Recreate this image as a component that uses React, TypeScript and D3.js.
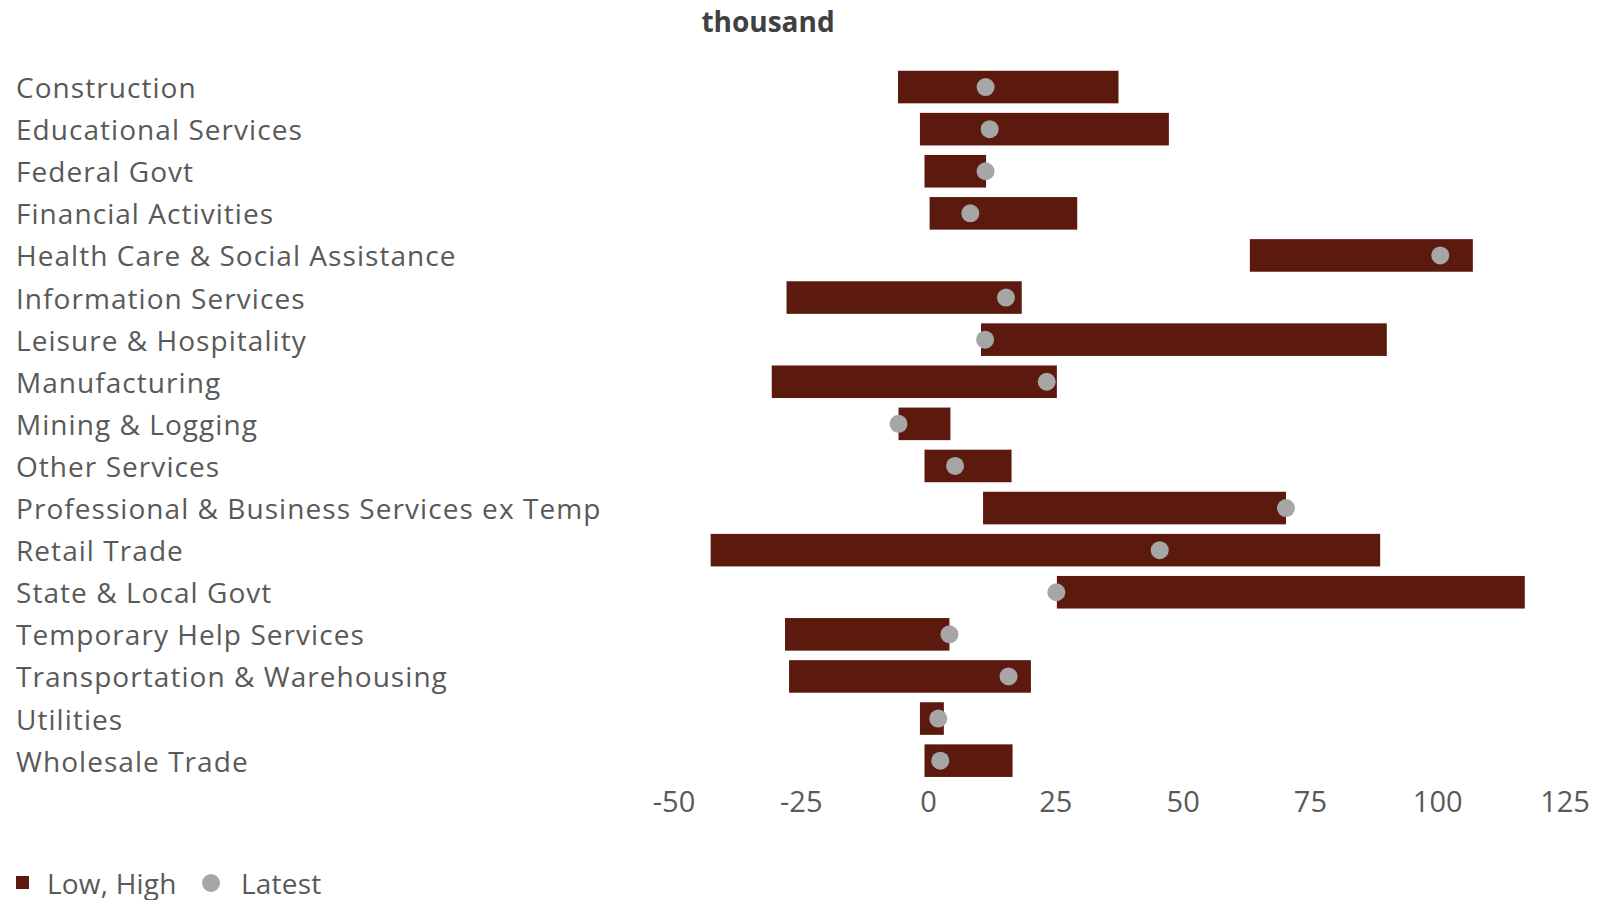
import React from "react";
import * as d3 from "d3";

const categories = [
  "Construction",
  "Educational Services",
  "Federal Govt",
  "Financial Activities",
  "Health Care & Social Assistance",
  "Information Services",
  "Leisure & Hospitality",
  "Manufacturing",
  "Mining & Logging",
  "Other Services",
  "Professional & Business Services ex Temp",
  "Retail Trade",
  "State & Local Govt",
  "Temporary Help Services",
  "Transportation & Warehousing",
  "Utilities",
  "Wholesale Trade",
];

const lowValues = [-6.0, -1.7, -0.8, 0.2, 63.1, -27.9, 10.3, -30.8, -5.9, -0.8, 10.7, -42.8, 25.2, -28.2, -27.4, -1.7, -0.8];
const highValues = [37.3, 47.2, 11.3, 29.2, 106.9, 18.3, 90.0, 25.2, 4.3, 16.3, 70.2, 88.7, 117.1, 4.1, 20.1, 3.0, 16.5];
const latestValues = [11.2, 12.0, 11.2, 8.2, 100.5, 15.2, 11.1, 23.2, -5.9, 5.2, 70.2, 45.4, 25.1, 4.1, 15.7, 1.9, 2.3];

const tickValues = [-50, -25, 0, 25, 50, 75, 100, 125];
const titleText = "thousand";
const legendLabels = ["Low, High", "Latest"];

const BAR = "#5c1a0e";
const DOT = "#a6a6a6";
const TEXT = "#595959";
const FONT = "'Open Sans', 'Noto Sans', sans-serif";

export default function App() {
  const x = d3.scaleLinear().domain([-50, 125]).range([674, 1565]);
  const y = d3
    .scaleBand<string>()
    .domain(categories)
    .range([66, 66 + 17 * 42.1])
    .paddingInner(0.226)
    .paddingOuter(0.113);
  const bw = y.bandwidth();

  return (
    <svg
      width={1600}
      height={900}
      style={{ position: "absolute", left: 0, top: 0, background: "#fff" }}
      fontFamily={FONT}
    >
      <rect x={0} y={0} width={1600} height={900} fill="#fff" />
      <text x={768} y={32} textAnchor="middle" fontSize={28} fontWeight={700} fill="#404040">
        {titleText}
      </text>

      {categories.map((c, i) => {
        const yy = y(c) as number;
        return (
          <g key={c}>
            <text x={16} y={yy + bw / 2 + 11} fontSize={28} letterSpacing={1.05} fill={TEXT}>
              {c}
            </text>
            <rect
              x={x(lowValues[i])}
              y={yy}
              width={x(highValues[i]) - x(lowValues[i])}
              height={bw}
              fill={BAR}
            />
          </g>
        );
      })}
      {categories.map((c, i) => {
        const yy = y(c) as number;
        return <circle key={c} cx={x(latestValues[i])} cy={yy + bw / 2} r={9} fill={DOT} />;
      })}

      {tickValues.map((t) => (
        <text key={t} x={x(t)} y={812} textAnchor="middle" fontSize={29} fill={TEXT}>
          {t}
        </text>
      ))}

      <rect x={16} y={876} width={13} height={13} fill={BAR} />
      <text x={47} y={894} fontSize={28} letterSpacing={0.2} fill={TEXT}>
        {legendLabels[0]}
      </text>
      <circle cx={211} cy={883} r={9} fill={DOT} />
      <text x={241} y={894} fontSize={28} letterSpacing={0.2} fill={TEXT}>
        {legendLabels[1]}
      </text>
    </svg>
  );
}
